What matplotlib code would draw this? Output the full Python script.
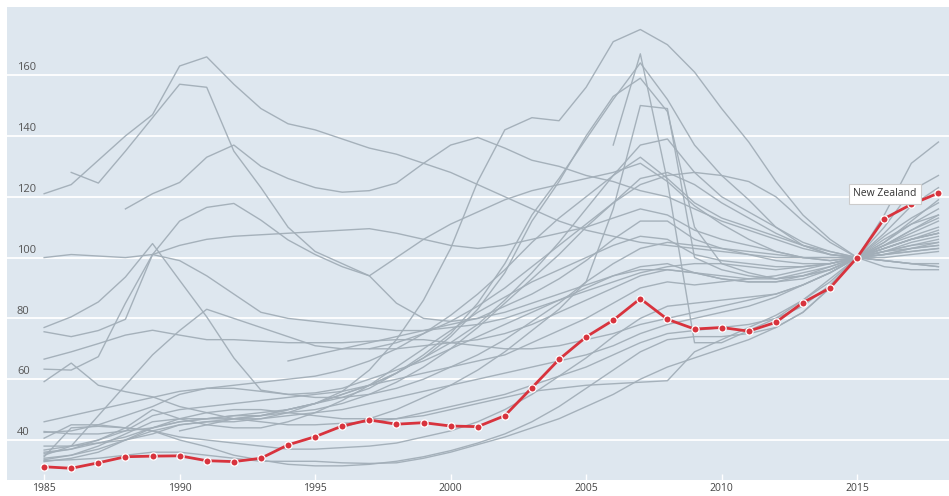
import numpy as np
import matplotlib
matplotlib.use("Agg")
import matplotlib.pyplot as plt

N = np.nan
years = list(range(1985, 2019))
xtick_years = [1985, 1990, 1995, 2000, 2005, 2010, 2015]
ytick_vals = [40, 60, 80, 100, 120, 140, 160]

new_zealand = [31.2, 30.7, 32.5, 34.5, 34.7, 34.8, 33.2, 32.9, 34.0, 38.4,
               41.1, 44.6, 46.6, 45.2, 45.7, 44.6, 44.4, 48.0, 57.2, 66.5,
               73.9, 79.4, 86.5, 79.7, 76.5, 77.0, 75.8, 78.7, 85.2, 90.0,
               100, 112.8, 117.5, 121.2]

g01 = [121, 124, 132, 140, 147, 163, 166, 157, 149, 144, 142, 139, 136, 134, 131, 128, 124, 120, 116, 112, 109, 107, 105, 104, 103, 102, 101, 100, 100, 100, 100, 100, 101, 102]
g02 = [N, 128, 124.5, 135, 146, 157, 156, 135, 123, 110, 102, 98, 94, 85, 80, 79, 80, 82, 85, 88, 91, 94, 96, 96, 95, 94, 93, 93, 95, 97, 100, 104, 109, 114]
g03 = [N, N, N, 116, 121, 124.7, 133, 137, 130, 126, 123, 121.5, 122, 124.5, 131, 137, 139.5, 136, 132, 130, 127, 125, 122, 120, 116, 112, 109, 106, 103, 101, 100, 99, 98, 97]
g04 = [100, 101, 100.5, 100, 101, 99, 94, 88, 82, 80, 79, 78, 77, 76, 76, 77, 78, 80, 83, 86, 89, 92, 95, 97, 98, 98, 97, 96, 97, 98, 100, 102, 105, 107]
g05 = [77, 80.5, 85.4, 93.6, 104.6, 92.5, 80.5, 67, 56.4, 55, 55.5, 57, 60, 63, 66, 70, 74, 78, 82, 86, 90, 94, 97, 98, 95, 93, 92, 92, 94, 97, 100, 103, 106, 109]
g06 = [75.6, 74, 76, 79.7, 101, 104, 106, 107, 107.5, 108, 108.5, 109, 109.5, 108, 106, 104, 103, 104, 106, 108, 110, 113, 116, 114, 109, 106, 104, 102, 100, 99, 100, 101, 102, 103]
g07 = [63.3, 63, 67.4, 85, 101, 112, 116.5, 117.8, 112.3, 105.8, 101, 97, 94, 100, 106, 111, 115, 119, 122, 124, 126, 128, 131, 125, 117, 111, 106, 102, 100, 99, 100, 99, 98, 98]
g08 = [66.6, 69, 71.7, 74.5, 76.1, 74.5, 73, 73, 72.5, 72, 72, 72, 72.5, 73, 73, 72, 71, 70, 70, 71, 73, 75, 78, 80, 82, 84, 86, 88, 91, 95, 100, 104, 107, 110]
g09 = [59.2, 65.3, 58, 55.9, 54.2, 51, 49, 47, 46, 45, 45, 45.5, 46, 47, 49, 51, 53, 55, 58, 61, 64, 68, 72, 75, 76, 77, 78, 80, 84, 91, 100, 114, 131, 138]
g10 = [35, 38, 48, 58, 68, 76, 83, 80, 77, 74, 71, 70, 70, 70, 71, 72, 73, 75, 78, 82, 86, 90, 94, 96, 95, 93, 92, 92, 93, 96, 100, 105, 111, 116]
g11 = [46, 48, 50, 52, 54, 56, 57, 57, 56, 55, 54, 54, 55, 57, 60, 64, 68, 73, 79, 85, 92, 98, 103, 105, 104, 103, 102, 101, 100, 100, 100, 101, 102, 103]
g12 = [42.8, 42, 42, 43, 44, 46, 47, 48, 48, 49, 50, 52, 55, 59, 64, 70, 77, 85, 93, 101, 110, 118, 126, 128, 124, 118, 113, 108, 104, 101, 100, 99, 98, 97]
g13 = [40.6, 45, 45, 44, 43, 41, 40, 39, 38, 37, 37, 37.5, 38, 39, 41, 43, 46, 50, 55, 61, 67, 74, 80, 84, 85, 86, 87, 88, 91, 95, 100, 104, 109, 113]
g14 = [36.7, 38, 40, 44, 50, 47, 45, 44, 44, 46, 49, 53, 58, 64, 70, 76, 82, 87, 92, 96, 100, 104, 107, 106, 101, 99, 98, 97, 97, 98, 100, 102, 104, 105]
g15 = [35.6, 37, 40, 43, 48, 50, 51, 52, 53, 54, 55, 56, 58, 60, 62, 64, 66, 68, 72, 76, 80, 85, 90, 92, 91, 92, 93, 94, 96, 98, 100, 103, 106, 108]
g16 = [34.5, 44, 44.5, 44, 43, 40, 37.8, 35, 33.4, 32, 31.5, 31.5, 32, 33, 34.5, 36.5, 39, 42, 46, 51, 57, 63, 69, 73, 74, 74, 75, 77, 82, 90, 100, 106, 111, 114]
g17 = [33.5, 35, 38, 42, 46, 47, 47, 47, 47, 48, 49, 50, 52, 54, 56, 58, 60, 62, 64, 66, 68, 71, 75, 78, 80, 82, 84, 87, 91, 95, 100, 103, 106, 108]
g18 = [32.9, 34, 36, 40, 44, 47, 49, 50, 50, 49, 48, 47, 47, 47, 48, 50, 52, 54, 56, 57, 58, 58.5, 59, 59.5, 69, 73, 77, 81, 86, 92, 100, 102, 103, 104]
g19 = [33.2, 33.5, 34, 35, 36, 36, 35, 34, 33, 33, 33, 32.5, 32.3, 32.5, 34, 36, 38.5, 41, 44, 47, 51, 55, 60, 64, 67, 70, 73, 77, 82, 90, 100, 107, 113, 118]
g20 = [N, N, N, N, N, N, N, N, N, 66, 68, 70, 72, 74, 76, 78, 80, 84, 88, 93, 99, 106, 112, 112, 106, 103, 101, 99, 98, 98, 100, 101, 103, 105]
g21 = [38, 38, 39, 40, 42, 45, 46, 46, 47, 49, 52, 56, 63, 73, 86, 103, 125, 142, 146, 145, 156, 171, 175, 170, 161, 149, 138, 125, 114, 106, 100, 108, 117, 123]
g22 = [N] * 21 + [137, 167, 125, 72, 72, 76, 80, 86, 93, 100, 110, 122, 127]
g23 = [36, 37, 39, 41, 44, 46, 47, 48, 49, 50, 52, 54, 57, 62, 68, 75, 85, 98, 114, 126, 139, 152, 164, 152, 137, 127, 119, 110, 104, 101, 100, 105, 112, 119]
g24 = [34, 35, 37, 40, 43, 45, 46, 47, 48, 50, 52, 55, 58, 62, 67, 74, 83, 95, 112, 125, 140, 153, 159, 148, 110, 98, 95, 93, 94, 96, 100, 104, 108, 112]
g25 = [N] * 11 + [44, 47, 50, 54, 58, 63, 69, 76, 83, 92, 116, 150, 149, 100, 96, 94, 93, 94, 96, 100, 103, 106, 108]
g26 = [N] * 5 + [43, 45, 47, 48, 50, 52, 55, 58, 62, 67, 72, 78, 86, 95, 105, 116, 127, 137, 139, 128, 120, 115, 110, 105, 102, 100, 102, 104, 106]
g27 = [42.5, 43, 45, 48, 51, 55, 57, 58, 59, 60, 61, 63, 66, 70, 75, 81, 88, 96, 105, 113, 120, 127, 133, 126, 118, 113, 110, 107, 104, 102, 100, 101, 103, 104]
g28 = [N] * 12 + [70, 72, 75, 79, 84, 90, 97, 104, 111, 118, 124, 127, 128, 127, 125, 120, 112, 105, 100, 97, 96, 96]

others = [g01, g02, g03, g04, g05, g06, g07, g08, g09, g10, g11, g12, g13, g14,
          g15, g16, g17, g18, g19, g20, g21, g22, g23, g24, g25, g26, g27, g28]
for s in others:
    assert len(s) == len(years), len(s)

W, H = 949, 496
fig = plt.figure(figsize=(W / 100, H / 100), dpi=100, facecolor="white")
ax = fig.add_axes([7 / W, 16 / H, (W - 7) / W, 473 / H])
ax.set_facecolor("#dee7ef")
for sp in ax.spines.values():
    sp.set_visible(False)

ax.set_xlim(1983.63, 2018.39)
ax.set_ylim(26.85, 182.4)

for v in ytick_vals:
    ax.axhline(v, color="white", lw=1.3, zorder=1)
    ax.text(0.0105, v + 2.4, str(v), transform=ax.get_yaxis_transform(),
            ha="left", va="center", fontsize=8, color="#555555",
            family="Open Sans", zorder=2)
ax.set_yticks([])

ax.set_xticks(xtick_years)
ax.set_xticklabels([str(y) for y in xtick_years], fontsize=7.5, color="#444444",
                   family="Open Sans")
ax.tick_params(axis="x", direction="in", length=4, width=1, color="white", pad=2)

for s in others:
    ax.plot(years, s, color="#a2aeb8", lw=1.0, alpha=0.95, zorder=3,
            solid_joinstyle="round")

ax.plot(years, new_zealand, color="#d8333d", lw=2.0, zorder=5,
        marker="o", markersize=5.2, markerfacecolor="#d8333d",
        markeredgecolor="white", markeredgewidth=0.9)

ax.text(2016.03, 121.0, "New Zealand", ha="center", va="center", fontsize=7.5,
        color="#333333", family="Open Sans", zorder=7,
        bbox=dict(boxstyle="square,pad=0.45", facecolor="white",
                  edgecolor="#cccccc", lw=0.8))

fig.savefig("out.png", dpi=100, facecolor="white")
